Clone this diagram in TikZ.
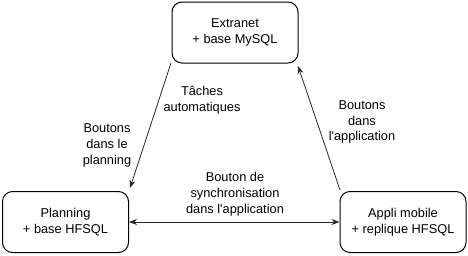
\documentclass[tikz,border=0pt]{standalone}
\usepackage{fontspec}
\setmainfont{Liberation Sans}
\usetikzlibrary{arrows.meta}
\begin{document}
\begin{tikzpicture}[x=1pt,y=-1pt,
  box/.style={draw=black,line width=1pt,rounded corners=10pt,fill=white,
    minimum width=126pt,minimum height=61pt,align=center,
    font=\fontsize{12.8}{15.5}\selectfont},
  lbl/.style={align=center,font=\fontsize{12.8}{15.8}\selectfont,inner sep=0pt},
  link/.style={draw=black!85,line width=0.8pt,-{Stealth[length=8pt,width=6pt]}}]
\useasboundingbox (0,0) rectangle (468,255);
\node[box] (ext) at (235,32.5) {Extranet\\+ base MySQL};
\node[box] (plan) at (65.5,222) {Planning\\+ base HFSQL};
\node[box] (app) at (403,222) {Appli mobile\\+ replique HFSQL};
\coordinate (extBL) at (171,63);
\coordinate (extBR) at (298,66);
\coordinate (planTR) at (130,188);
\coordinate (appTL) at (340,190);
\draw[link] (extBL) -- (planTR);
\draw[link] (appTL) -- (extBR);
\draw[link,{Stealth[length=8pt,width=6pt]}-{Stealth[length=8pt,width=6pt]}] (plan.east) -- (app.west);
\node[lbl] (t1) at (202,100.5) {Tâches\\automatiques};
\node[lbl] (t2) at (107,145.5) {Boutons\\dans le\\planning};
\node[lbl] (t3) at (362,122) {Boutons\\dans\\l\textquotesingle application};
\node[lbl] (t4) at (235,194) {Bouton de\\synchronisation\\dans l\textquotesingle application};
\end{tikzpicture}
\end{document}
